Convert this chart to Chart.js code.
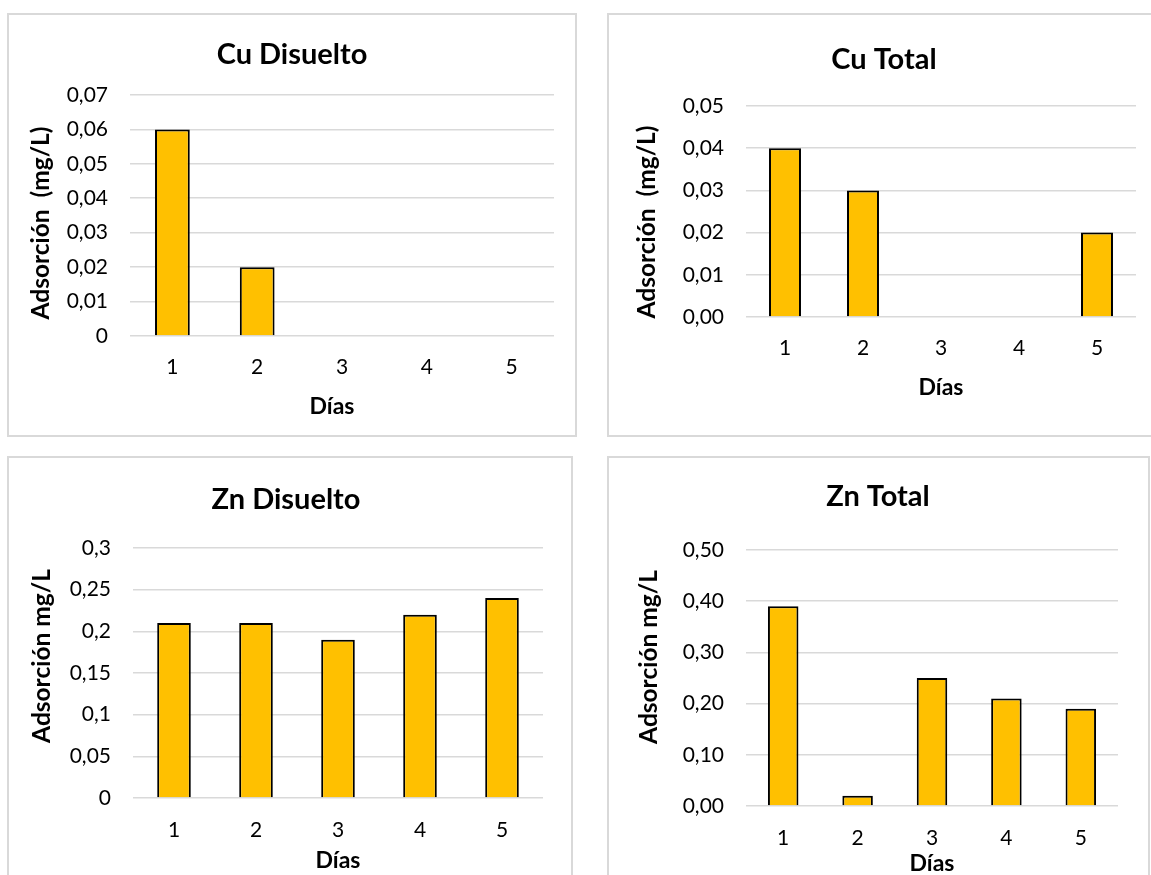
<!DOCTYPE html>
<html>
<head>
<meta charset="utf-8">
<script src="https://cdn.jsdelivr.net/npm/chart.js@4.4.1/dist/chart.umd.min.js"></script>
<style>
  html, body { margin: 0; padding: 0; background: #fff; overflow: hidden; width: 1151px; height: 875px; }
  .panel { position: absolute; box-sizing: border-box; border: 2px solid #d9d9d9; background: #fff; }
  canvas { position: absolute; }
</style>
</head>
<body>
<div class="panel" style="left:7px;top:13px;width:570px;height:424px"></div>
<div class="panel" style="left:607px;top:13px;width:570px;height:424px"></div>
<div class="panel" style="left:7px;top:456px;width:566px;height:440px"></div>
<div class="panel" style="left:607px;top:456px;width:543px;height:440px"></div>
<canvas id="cuDis"></canvas>
<canvas id="cuTot"></canvas>
<canvas id="znDis"></canvas>
<canvas id="znTot"></canvas>
<script>
// Categories (days)
const dias = ['1', '2', '3', '4', '5'];

// Adsorption values per day (mg/L)
const cuDisuelto = [0.06, 0.02, 0, 0, 0];
const cuTotal = [0.04, 0.03, 0, 0, 0.02];
const znDisuelto = [0.21, 0.21, 0.19, 0.22, 0.24];
const znTotal = [0.39, 0.02, 0.25, 0.21, 0.19];

// Y-axis tick labels, bottom to top
const cuDisueltoTicks = ['0', '0,01', '0,02', '0,03', '0,04', '0,05', '0,06', '0,07'];
const cuTotalTicks = ['0,00', '0,01', '0,02', '0,03', '0,04', '0,05'];
const znDisueltoTicks = ['0', '0,05', '0,1', '0,15', '0,2', '0,25', '0,3'];
const znTotalTicks = ['0,00', '0,10', '0,20', '0,30', '0,40', '0,50'];

// Titles
const titles = ['Cu Disuelto', 'Cu Total', 'Zn Disuelto', 'Zn Total'];
const yTitles = ['Adsorción  (mg/L)', 'Adsorción  (mg/L)', 'Adsorción mg/L', 'Adsorción mg/L'];
const xTitle = 'Días';

const FONT = 'Lato, "Open Sans", sans-serif';
const TICK_SIZE = 21, TITLE_SIZE = 29, Y_TITLE_SIZE = 24.5, X_TITLE_SIZE = 23;
const LH = 1.2;

function toNum(label) { return parseFloat(label.replace(',', '.')); }

// Axis titles drawn at fixed spots around the plot
const axisTitles = {
  id: 'axisTitles',
  afterDraw(chart, args, opts) {
    const ctx = chart.ctx;
    ctx.save();
    ctx.fillStyle = '#000';
    ctx.textAlign = 'center';
    ctx.textBaseline = 'middle';
    ctx.font = 'bold ' + opts.xSize + 'px ' + FONT;
    ctx.fillText(opts.xText, opts.xAt[0], opts.xAt[1]);
    ctx.translate(opts.yAt[0], opts.yAt[1]);
    ctx.rotate(-Math.PI / 2);
    ctx.font = 'bold ' + opts.ySize + 'px ' + FONT;
    ctx.fillText(opts.yText, 0, 0);
    ctx.restore();
  }
};

// box: canvas placement on page; area: plot rectangle inside the canvas
function makeChart(id, layout, title, yTitle, values, tickLabels) {
  const [x, y, W, H] = layout.box;
  const [L, T, R, B] = layout.area;
  const cv = document.getElementById(id);
  cv.width = W; cv.height = H;
  cv.style.left = x + 'px'; cv.style.top = y + 'px';
  cv.style.width = W + 'px'; cv.style.height = H + 'px';

  const tickValues = tickLabels.map(toNum);
  const titleLH = TITLE_SIZE * LH;
  const titlePadTop = layout.titleY - titleLH / 2;
  const padR = W - R;
  const padL = 2 * layout.titleX - W + padR;   // centres the chart title at titleX

  new Chart(cv, {
    type: 'bar',
    data: {
      labels: dias,
      datasets: [{
        data: values,
        backgroundColor: '#FFC000',
        borderColor: '#000000',
        borderWidth: 2,
        barPercentage: 0.41,
        categoryPercentage: 1.0
      }]
    },
    plugins: [axisTitles],
    options: {
      responsive: false,
      animation: false,
      devicePixelRatio: 1,
      layout: { padding: { left: padL, top: 0, right: padR, bottom: 0 } },
      plugins: {
        legend: { display: false },
        tooltip: { enabled: false },
        title: {
          display: true,
          text: title,
          color: '#000',
          font: { family: FONT, size: TITLE_SIZE, weight: 'bold', lineHeight: LH },
          padding: { top: titlePadTop, bottom: T - titlePadTop - titleLH }
        },
        axisTitles: {
          xText: xTitle, xAt: layout.xTitleAt, xSize: X_TITLE_SIZE,
          yText: yTitle, yAt: layout.yTitleAt, ySize: Y_TITLE_SIZE
        }
      },
      scales: {
        x: {
          grid: { display: false, drawTicks: false },
          border: { display: false },
          ticks: {
            color: '#000',
            font: { family: FONT, size: TICK_SIZE, lineHeight: LH },
            padding: layout.xTickY - B - TICK_SIZE * LH / 2,
            maxRotation: 0
          },
          afterFit: s => { s.height = H - B; }
        },
        y: {
          min: tickValues[0],
          max: tickValues[tickValues.length - 1],
          grid: { color: '#d9d9d9', lineWidth: 1.6, drawTicks: false },
          border: { display: false },
          afterBuildTicks: s => { s.ticks = tickValues.map(v => ({ value: v })); },
          ticks: {
            color: '#000',
            font: { family: FONT, size: TICK_SIZE, lineHeight: LH },
            padding: 22,
            callback: (v, i) => tickLabels[i]
          },
          afterFit: s => { s.width = L - padL; }
        }
      }
    }
  });
}

const layouts = [
  { box: [7, 13, 570, 424], area: [123, 82, 547, 323], titleX: 285, titleY: 42, yTitleAt: [34, 210], xTickY: 354, xTitleAt: [325, 394] },
  { box: [607, 13, 544, 424], area: [139, 93, 529, 304], titleX: 277, titleY: 47, yTitleAt: [40, 209], xTickY: 335, xTitleAt: [334, 375] },
  { box: [7, 456, 566, 419], area: [126, 92, 536, 342], titleX: 279, titleY: 44, yTitleAt: [35, 200], xTickY: 374, xTitleAt: [331, 405] },
  { box: [607, 456, 542, 419], area: [139, 94, 511, 350], titleX: 271, titleY: 41, yTitleAt: [42, 201], xTickY: 382, xTitleAt: [325, 408] }
];

makeChart('cuDis', layouts[0], titles[0], yTitles[0], cuDisuelto, cuDisueltoTicks);
makeChart('cuTot', layouts[1], titles[1], yTitles[1], cuTotal, cuTotalTicks);
makeChart('znDis', layouts[2], titles[2], yTitles[2], znDisuelto, znDisueltoTicks);
makeChart('znTot', layouts[3], titles[3], yTitles[3], znTotal, znTotalTicks);
</script>
</body>
</html>
